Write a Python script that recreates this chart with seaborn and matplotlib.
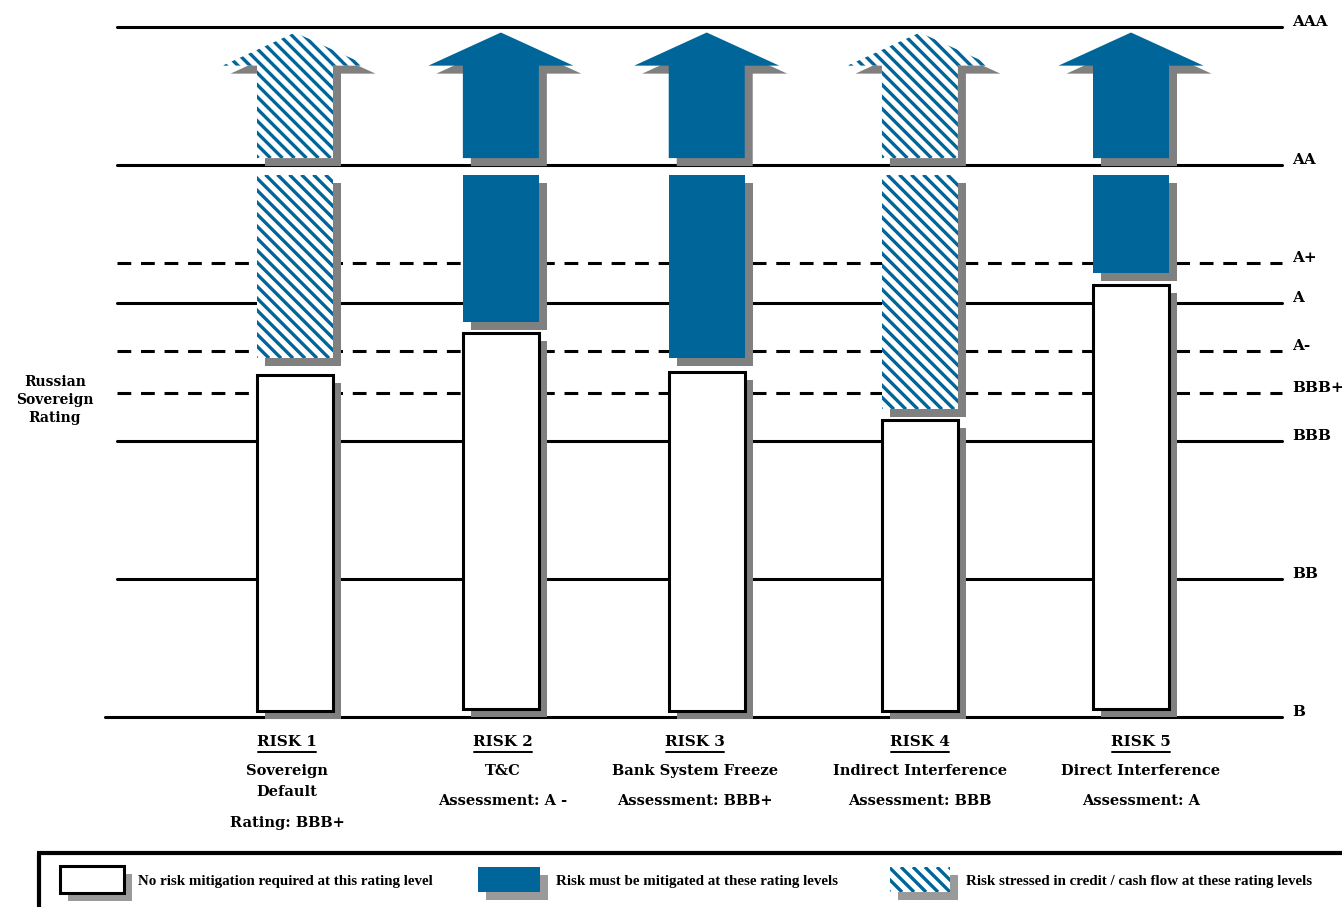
import numpy as np
import pandas as pd
import matplotlib
matplotlib.use("Agg")
import matplotlib.pyplot as plt
from matplotlib.patches import Polygon, Rectangle
import seaborn as sns

# --- data -----------------------------------------------------------------
# rating scale: B = 0, each full notch group (B -> BB -> BBB -> ...) = 1
rating_names = ["AAA", "AA", "A+", "A", "A-", "BBB+", "BBB", "BB", "B"]
rating_levels = [5.0, 4.0, 3.29, 3.0, 2.65, 2.35, 2.0, 1.0, 0.0]
rating_dashed = [False, False, True, False, True, True, False, False, False]

risk_ids = ["RISK 1", "RISK 2", "RISK 3", "RISK 4", "RISK 5"]
risk_pos = [0.0, 0.985, 1.97, 2.99, 4.0]
risk_titles = ["Sovereign\nDefault", "T&C", "Bank System Freeze",
               "Indirect Interference", "Direct Interference"]
risk_notes = ["Rating: BBB+", "Assessment: A -", "Assessment: BBB+",
              "Assessment: BBB", "Assessment: A"]

# white column = no mitigation required
no_mitigation_base = [0.04, 0.06, 0.04, 0.04, 0.06]
no_mitigation_top = [2.48, 2.78, 2.50, 2.15, 3.13]
# coloured block above it
risk_block_bottom = [2.60, 2.86, 2.60, 2.23, 3.22]
risk_block_top = [3.93, 3.93, 3.93, 3.93, 3.93]
# arrow above AA
arrow_base = [4.05, 4.05, 4.05, 4.05, 4.05]
arrow_head = [4.72, 4.72, 4.72, 4.72, 4.72]
arrow_tip = [4.96, 4.96, 4.96, 4.96, 4.96]
risk_kind = ["stressed", "mitigate", "mitigate", "stressed", "mitigate"]

legend_labels = ["No risk mitigation required at this rating level",
                 "Risk must be mitigated at these rating levels",
                 "Risk stressed in credit / cash flow at these rating levels"]

# --- style ----------------------------------------------------------------
BLUE = "#006699"
GREY = "#808080"
W, H = 1342, 907
PX_X, PX_Y = 209.0, 138.0        # pixels per category / per rating unit
X0_PX, Y0_PX = 295, 717           # pixel position of RISK 1 centre / B line
BAR_W = 76 / PX_X
HEAD_W = 145 / PX_X
SH_X, SH_Y = 8 / PX_X, 8 / PX_Y   # drop shadow offset
LABEL_SHIFT = [-8, 2, -12, 0, 10]  # text block offset under each column, px

sns.set_style("white")
plt.rcParams['font.family'] = ['DejaVu Serif', 'DejaVu Sans']
plt.rcParams['text.color'] = 'black'


def xpx(p):
    return (p - X0_PX) / PX_X


def ypx(p):
    return (Y0_PX - p) / PX_Y


fig = plt.figure(figsize=(W / 100, H / 100), dpi=100)
ax = fig.add_axes([0, 0, 1, 1])


def stripes(patch, x0, x1, y0, y1, z):
    # diagonal blue stripes clipped to the patch
    w = (x1 - x0) * PX_X
    h = (y1 - y0) * PX_Y
    for s in np.arange(-h, w + 12, 12):
        ln, = ax.plot([x0 + s / PX_X, x0 + (s + h) / PX_X], [y1, y0],
                      color=BLUE, lw=2.4, solid_capstyle='butt', zorder=z)
        ln.set_clip_path(patch)


def block(x0, x1, y0, y1, kind, z=5, shadow=True):
    if shadow:
        ax.add_patch(Rectangle((x0 + SH_X, y0 - SH_Y), x1 - x0, y1 - y0,
                               facecolor=GREY, edgecolor='none', zorder=z - 1))
    fc = BLUE if kind == "mitigate" else "white"
    p = Rectangle((x0, y0), x1 - x0, y1 - y0, facecolor=fc,
                  edgecolor='none', zorder=z)
    ax.add_patch(p)
    if kind == "stressed":
        stripes(p, x0, x1, y0, y1, z + 0.1)
    return p


# white columns through seaborn
df = pd.DataFrame({"risk": risk_ids, "top": no_mitigation_top})
sns.barplot(data=df, x="risk", y="top", width=BAR_W, color="white",
            saturation=1, edgecolor="black", linewidth=2.2, ax=ax, zorder=4)
for p, base, pos in zip(list(ax.patches), no_mitigation_base, risk_pos):
    p.set_x(pos - BAR_W / 2)
    p.set_y(base)
    p.set_height(p.get_height() - base)
    ax.add_patch(Rectangle((p.get_x() + SH_X, base - SH_Y), p.get_width(),
                           p.get_height(), facecolor=GREY, edgecolor='none',
                           zorder=3))

# rating lines and labels
for name, lvl, dashed in zip(rating_names, rating_levels, rating_dashed):
    x_start = xpx(105) if lvl == 0 else xpx(117)
    ax.plot([x_start, xpx(1282)], [lvl, lvl], color='black', lw=2.2,
            linestyle=(0, (4.5, 3.2)) if dashed else '-', zorder=2)
    ax.text(xpx(1292), lvl + 5 / PX_Y, name, ha='left', va='center',
            fontsize=11, fontweight='bold')

ax.text(xpx(55), ypx(400), "Russian\nSovereign\nRating", ha='center',
        va='center', fontsize=10, fontweight='bold', linespacing=1.4)

# coloured blocks and arrows
for i, kind in enumerate(risk_kind):
    c = risk_pos[i]
    block(c - BAR_W / 2, c + BAR_W / 2, risk_block_bottom[i],
          risk_block_top[i], kind)
    sw, hw = BAR_W / 2, HEAD_W / 2
    verts = [(c - sw, arrow_base[i]), (c - sw, arrow_head[i]),
             (c - hw, arrow_head[i]), (c, arrow_tip[i]),
             (c + hw, arrow_head[i]), (c + sw, arrow_head[i]),
             (c + sw, arrow_base[i])]
    sh = [(vx + SH_X, vy - SH_Y) for vx, vy in verts]
    ax.add_patch(Polygon(sh, closed=True, facecolor=GREY, edgecolor='none',
                         zorder=4))
    arr = Polygon(verts, closed=True, edgecolor='none', zorder=5,
                  facecolor=BLUE if kind == "mitigate" else "white")
    ax.add_patch(arr)
    if kind == "stressed":
        stripes(arr, c - hw, c + hw, arrow_base[i], arrow_tip[i], 5.1)

    # labels under the columns
    tc = c + LABEL_SHIFT[i] / PX_X
    ax.text(tc, ypx(742), risk_ids[i], ha='center', va='center',
            fontsize=11, fontweight='bold')
    ax.plot([tc - 29 / PX_X, tc + 29 / PX_X], [ypx(752), ypx(752)],
            color='black', lw=1.4)
    lines = risk_titles[i].split("\n")
    for k, t in enumerate(lines):
        ax.text(tc, ypx(771 + 21 * k), t, ha='center', va='center',
                fontsize=10.5, fontweight='bold')
    note_y = 801 if len(lines) == 1 else 823
    ax.text(tc, ypx(note_y), risk_notes[i], ha='center', va='center',
            fontsize=10.5, fontweight='bold')

# legend box (cut at the figure edge)
ax.plot([xpx(37), xpx(1342)], [ypx(853), ypx(853)], color='black', lw=3,
        solid_capstyle='butt')
ax.plot([xpx(39), xpx(39)], [ypx(853), ypx(907)], color='black', lw=3,
        solid_capstyle='butt')

swatches = [(60, 124, "none"), (478, 540, "mitigate"), (890, 950, "stressed")]
text_x = [138, 556, 966]
for (a, b, kind), tx, lab in zip(swatches, text_x, legend_labels):
    if kind == "none":
        ax.add_patch(Rectangle((xpx(a) + SH_X, ypx(893) - SH_Y),
                               xpx(b) - xpx(a), ypx(866) - ypx(893),
                               facecolor="#9a9a9a", edgecolor='none', zorder=4))
        ax.add_patch(Rectangle((xpx(a), ypx(893)), xpx(b) - xpx(a),
                               ypx(866) - ypx(893), facecolor='white',
                               edgecolor='black', lw=2.2, zorder=5))
    else:
        ax.add_patch(Rectangle((xpx(a) + SH_X, ypx(892) - SH_Y),
                               xpx(b) - xpx(a), ypx(867) - ypx(892),
                               facecolor="#9a9a9a", edgecolor='none', zorder=4))
        block(xpx(a), xpx(b), ypx(892), ypx(867), kind, shadow=False)
    ax.text(xpx(tx), ypx(882), lab, ha='left', va='center',
            fontsize=10.8, fontweight='bold',
            family=['Liberation Serif', 'DejaVu Serif'])

ax.set_xlim(xpx(0), xpx(W))
ax.set_ylim(ypx(H), ypx(0))
ax.axis('off')

fig.savefig("out.png", dpi=100)
plt.close(fig)
